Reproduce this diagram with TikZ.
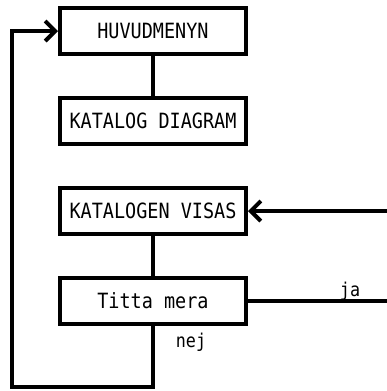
\documentclass[tikz,border=0pt]{standalone}
\usepackage{fontspec}
\usepackage{tikz}
\usetikzlibrary{arrows.meta,positioning}
\newfontfamily\boxfont[FakeStretch=0.88]{DejaVu Sans Mono}

\begin{document}
\begin{tikzpicture}[
  node distance=40pt,
  box/.style={draw, line width=4pt, align=center, minimum width=186pt, minimum height=46pt, inner sep=2pt, font=\boxfont\fontsize{21}{24}\selectfont},
  lbl/.style={font=\boxfont\fontsize{19}{22}\selectfont, inner sep=0pt},
  line/.style={line width=4pt},
  arrow/.style={line width=4pt, -{Straight Barb[length=10pt,width=20pt,line width=4pt]}}
]
\useasboundingbox (0,0) rectangle (386pt,-391pt);
\node[box] (huvud) at (153pt,-31pt) {HUVUDMENYN};
\node[box, below=of huvud] (katalog) {KATALOG DIAGRAM};
\node[box, below=of katalog] (visas) {KATALOGEN VISAS};
\node[box, below=of visas] (titta) {Titta mera};
\coordinate (loop) at (12pt,-387pt);
\coordinate (jaend) at (titta.east -| 390pt,0);
\coordinate (jain) at (visas.east -| 390pt,0);
\draw[line] (huvud) -- (katalog);
\draw[line] (visas) -- (titta);
\draw[line] (titta.east) -- (jaend);
\draw[arrow] (jain) -- (visas.east);
\draw[arrow] (titta.south) |- (loop) |- (huvud.west);
\node[lbl] (ja) at (350pt,-291pt) {ja};
\node[lbl] (nej) at (191pt,-342pt) {nej};
\end{tikzpicture}
\end{document}
